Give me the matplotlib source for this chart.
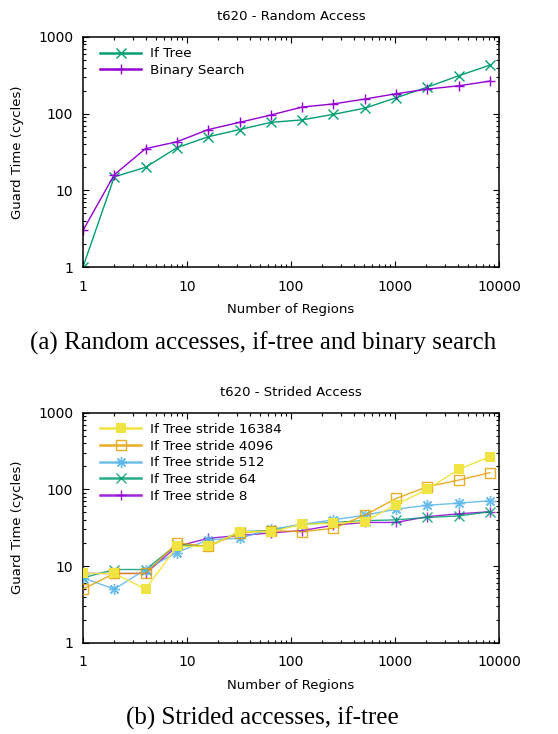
import matplotlib
matplotlib.use("Agg")
import matplotlib.pyplot as plt
import numpy as np

# regions (x values shared by all series)
regions = [1, 2, 4, 8, 16, 32, 64, 128, 256, 512, 1024, 2048, 4096, 8192]

# (a) random access
if_tree = [1, 15, 20, 36, 50, 62, 77, 83, 98, 118, 161, 222, 312, 430]
binary_search = [3, 16, 35, 43, 62, 77, 96, 122, 134, 155, 182, 209, 231, 266]

# (b) strided access
stride_16384 = [8, 8, 5, 18, 18, 28, 28, 35, 36, 38, 63, 100, 182, 267]
stride_4096 = [5, 8, 8, 20, 18, 27, 29, 28, 31, 46, 76, 108, 132, 165]
stride_512 = [7, 5, 9, 15, 22, 23, 30, 35, 40, 46, 55, 62, 66, 71]
stride_64 = [7, 9, 9, 19, 18, 28, 29, 35, 37, 39, 40, 43, 45, 51]
stride_8 = [8, 8, 8, 18, 23, 25, 27, 29, 34, 37, 37, 44, 48, 51]

purple = "#9400D3"
green = "#009E73"
blue = "#56B4E9"
orange = "#E69F00"
yellow = "#F0E442"

plt.rcParams['font.family'] = ['DejaVu Sans']
fig = plt.figure(figsize=(5.58, 7.34), dpi=100)


def style_axes(ax, title):
    ax.set_xscale('log')
    ax.set_yscale('log')
    ax.set_xlim(1, 10000)
    ax.set_ylim(1, 1000)
    ax.set_xticks([1, 10, 100, 1000, 10000])
    ax.set_xticklabels(["1", "10", "100", "1000", "10000"])
    ax.set_yticks([1, 10, 100, 1000])
    ax.set_yticklabels(["1", "10", "100", "1000"])
    ax.tick_params(which='both', direction='in', top=True, right=True,
                   labelsize=10)
    ax.tick_params(which='major', length=4.5, width=0.8, pad=7)
    ax.tick_params(which='minor', length=2.3, width=0.8)
    ax.tick_params(axis='x', which='major', pad=9)
    for s in ax.spines.values():
        s.set_linewidth(1.1)
    ax.set_title(title, fontsize=9.5, pad=12)
    ax.set_xlabel("Number of Regions", fontsize=9.5, labelpad=7)
    ax.set_ylabel("Guard Time (cycles)", fontsize=9.5, labelpad=10)


ax1 = fig.add_axes([0.1487, 0.6362, 0.7455, 0.3134])
ax1.plot(regions, if_tree, color=green, marker='x', ms=6.5, mew=1, lw=1,
         label="If Tree")
ax1.plot(regions, binary_search, color=purple, marker='+', ms=7, mew=1, lw=1,
         label="Binary Search")
style_axes(ax1, "t620 - Random Access")

ax2 = fig.add_axes([0.1487, 0.1244, 0.7455, 0.3134])
ax2.plot(regions, stride_8, color=purple, marker='+', ms=7, mew=1, lw=1,
         alpha=0.85, label="If Tree stride 8", zorder=2)
ax2.plot(regions, stride_64, color=green, marker='x', ms=6.5, mew=1, lw=1,
         alpha=0.85, label="If Tree stride 64", zorder=3)
ax2.plot(regions, stride_512, color=blue, marker=(8, 2, 0), ms=8, mew=1, lw=1,
         alpha=0.85, label="If Tree stride 512", zorder=4)
ax2.plot(regions, stride_4096, color=orange, marker='s', ms=7.5, mew=1,
         mfc='none', lw=1, alpha=0.85, label="If Tree stride 4096", zorder=5)
ax2.plot(regions, stride_16384, color=yellow, marker='s', ms=7.5, mew=0,
         lw=1, label="If Tree stride 16384", zorder=6)
style_axes(ax2, "t620 - Strided Access")

for ax, order in ((ax1, [0, 1]), (ax2, [4, 3, 2, 1, 0])):
    h, l = ax.get_legend_handles_labels()
    leg = ax.legend([h[i] for i in order], [l[i] for i in order],
                    loc='upper left', frameon=False, fontsize=9.7,
                    handlelength=3.0, handletextpad=0.68, labelspacing=0.27,
                    borderpad=0, borderaxespad=0,
                    bbox_to_anchor=(0.042, 0.955))
    for line in leg.get_lines():
        line.set_linewidth(1.8)

fig.text(0.471, 1 - 343 / 734, "(a) Random accesses, if-tree and binary search",
         ha='center', va='center', fontsize=18, family='Liberation Serif')
fig.text(0.471, 1 - 718 / 734, "(b) Strided accesses, if-tree",
         ha='center', va='center', fontsize=18, family='Liberation Serif')

fig.savefig("out.png", dpi=100)
